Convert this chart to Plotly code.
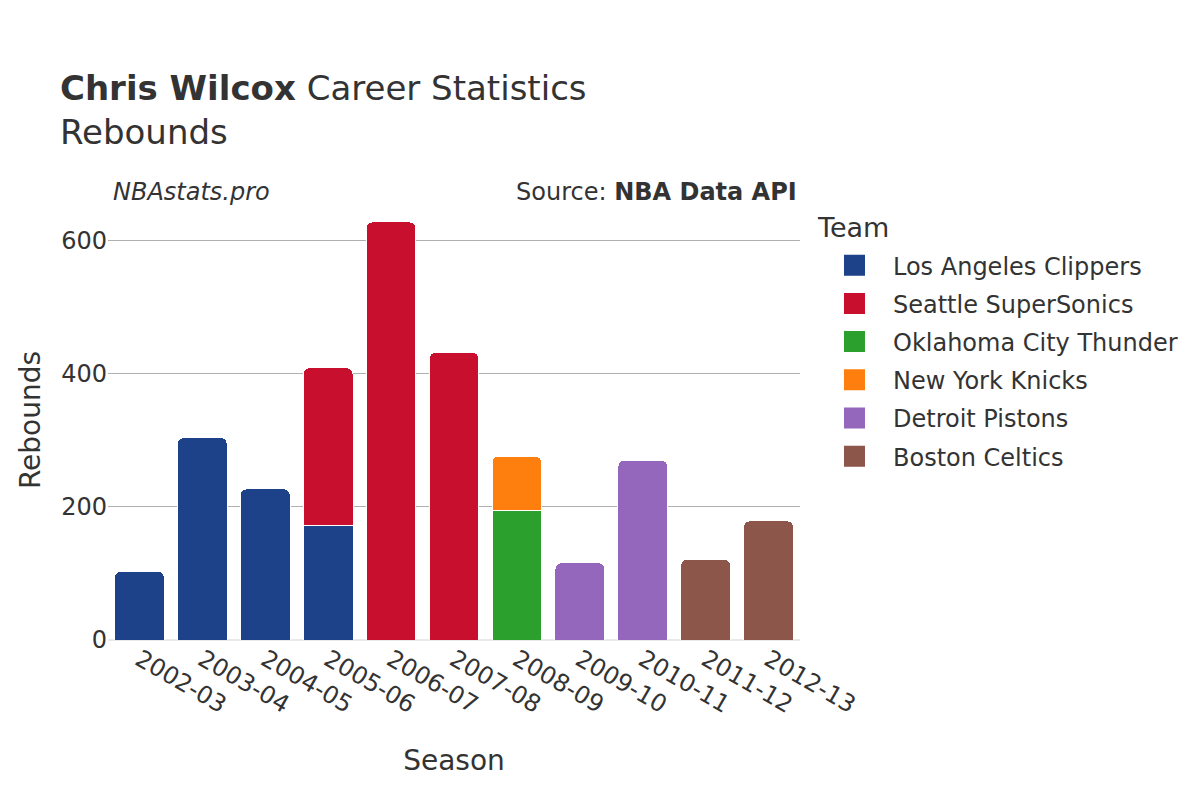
import plotly.graph_objects as go

seasons = ["2002-03", "2003-04", "2004-05", "2005-06", "2006-07", "2007-08",
           "2008-09", "2009-10", "2010-11", "2011-12", "2012-13"]

teams = ["Los Angeles Clippers", "Seattle SuperSonics", "Oklahoma City Thunder",
         "New York Knicks", "Detroit Pistons", "Boston Celtics"]
colors = ["#1d428a", "#c8102e", "#2ca02c", "#ff7f0e", "#9467bd", "#8c564b"]

clippers_seasons = ["2002-03", "2003-04", "2004-05", "2005-06"]
clippers_reb = [103, 304, 227, 172]
sonics_seasons = ["2005-06", "2006-07", "2007-08"]
sonics_reb = [237, 628, 432]
thunder_seasons = ["2008-09"]
thunder_reb = [195]
knicks_seasons = ["2008-09"]
knicks_reb = [81]
pistons_seasons = ["2009-10", "2010-11"]
pistons_reb = [116, 270]
celtics_seasons = ["2011-12", "2012-13"]
celtics_reb = [121, 179]

series = [
    (clippers_seasons, clippers_reb),
    (sonics_seasons, sonics_reb),
    (thunder_seasons, thunder_reb),
    (knicks_seasons, knicks_reb),
    (pistons_seasons, pistons_reb),
    (celtics_seasons, celtics_reb),
]

FONT = "DejaVu Sans"
fig = go.Figure()
for name, color, (xs, ys) in zip(teams, colors, series):
    fig.add_trace(go.Bar(
        x=xs, y=ys, name=name, legendgroup=name, showlegend=False,
        marker=dict(color=color, line=dict(color="white", width=1)),
    ))
# legend entries (larger square swatches)
for name, color in zip(teams, colors):
    fig.add_trace(go.Scatter(
        x=[None], y=[None], mode="markers", name=name, legendgroup=name,
        marker=dict(symbol="square", size=16, color=color,
                    line=dict(color=color, width=5)),
        hoverinfo="skip",
    ))

fig.update_layout(
    barmode="stack",
    barcornerradius=6,
    bargap=0.21,
    width=1200, height=800,
    paper_bgcolor="white", plot_bgcolor="white",
    font=dict(family=FONT, color="#333333", size=24),
    margin=dict(l=100, r=408, t=192, b=168),
    title=dict(
        text="<b>Chris Wilcox</b> Career Statistics<br>Rebounds",
        x=0.0433, xanchor="left", xref="container",
        y=0.885, yanchor="top", yref="container",
        font=dict(size=34, family=FONT, color="#333333"),
    ),
    legend=dict(
        x=1.0231, xanchor="left", y=0.902, yanchor="top",
        font=dict(size=24), tracegroupgap=4, itemwidth=67,
    ),
    xaxis=dict(
        type="category",
        title=dict(text="Season", font=dict(size=28), standoff=32),
        tickangle=30, categoryorder="array", categoryarray=seasons,
        showgrid=False, showline=False,
        tickfont=dict(size=24),
    ),
    yaxis=dict(
        title=dict(text="Rebounds", font=dict(size=28), standoff=12),
        range=[0, 661],
        gridcolor="#b0b0b0", gridwidth=1,
        zeroline=True, zerolinecolor="#e8e8e8", zerolinewidth=2,
        tickvals=[0, 200, 400, 600],
        tickfont=dict(size=24),
    ),
    annotations=[
        dict(text="<i>NBAstats.pro</i>", xref="paper", yref="paper",
             x=0.004, y=1.0, xanchor="left", yanchor="bottom", yshift=-8,
             showarrow=False,
             font=dict(size=24, family=FONT, color="#333333")),
        dict(text="Source: <b>NBA Data API</b>", xref="paper", yref="paper",
             x=0.998, y=1.0, xanchor="right", yanchor="bottom", yshift=-8,
             showarrow=False,
             font=dict(size=24, family=FONT, color="#333333")),
        dict(text="Team", xref="paper", yref="paper",
             x=1.0217, y=0.9386, xanchor="left", yanchor="middle",
             showarrow=False,
             font=dict(size=27, family=FONT, color="#333333")),
    ],
)

fig.write_html("out.html")
